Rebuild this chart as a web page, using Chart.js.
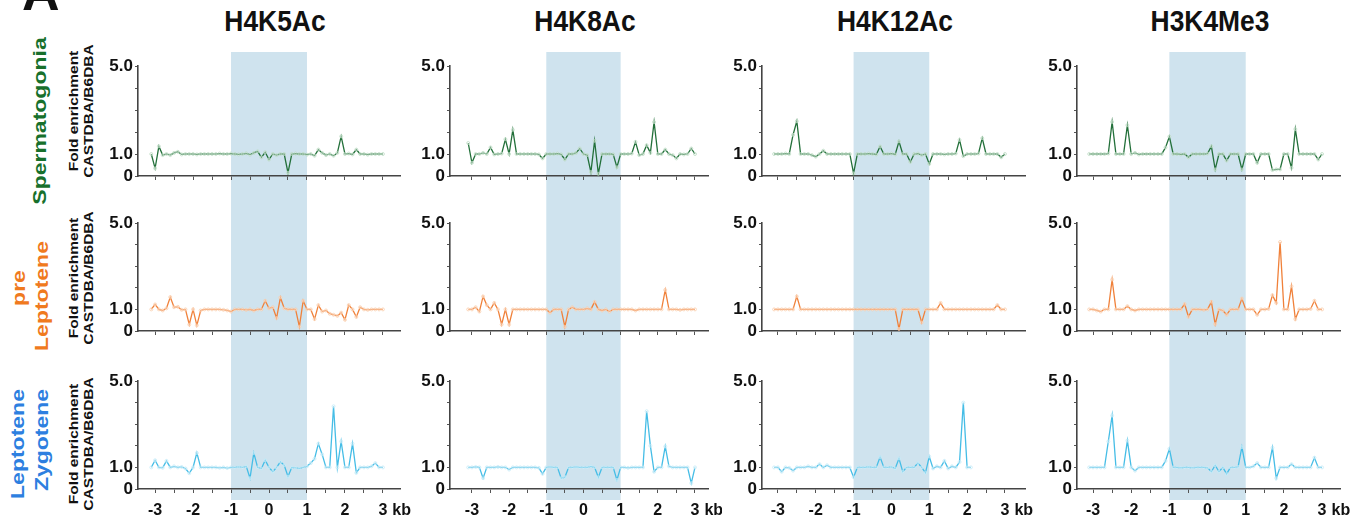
<!DOCTYPE html>
<html lang="en">
  <head>
    <meta charset="UTF-8" />
    <title>Fold enrichment CASTDBA/B6DBA</title>
    <script src="https://cdn.jsdelivr.net/npm/chart.js@4.4.0/dist/chart.umd.min.js"></script>
    <style>
      body {
        margin: 0;
        width: 1353px;
        height: 525px;
        background: #fff;
        position: relative;
        overflow: hidden;
        font-family: "Liberation Sans", Arial, sans-serif;
        font-weight: bold;
      }
      .panel { position: absolute; }
      .title {
        position: absolute;
        top: 6px;
        font-size: 30px;
        line-height: 30px;
        color: #111;
        white-space: nowrap;
        transform: translateX(-50%) scaleX(0.88);
      }
      .rot {
        position: absolute;
        white-space: nowrap;
        line-height: 1;
        transform: translate(-50%, -50%) rotate(-90deg) scaleY(0.82);
      }
      .stage { font-size: 23px; }
      .axisname { font-size: 15.5px; color: #111; }
    </style>
  </head>

  <body>
    <div style="position:absolute; left:22px; top:-34px; font-size:52px; line-height:52px; color:#111">A</div>

    <div class="title" style="left:275px">H4K5Ac</div>
    <div class="title" style="left:585px">H4K8Ac</div>
    <div class="title" style="left:895px">H4K12Ac</div>
    <div class="title" style="left:1210px">H3K4Me3</div>

    <div class="rot stage" style="left:40px; top:121px; color:#17702c">Spermatogonia</div>
    <div class="rot stage" style="left:19px; top:288px; color:#f07a1e">pre</div>
    <div class="rot stage" style="left:42px; top:296px; color:#f07a1e">Leptotene</div>
    <div class="rot stage" style="left:18px; top:444px; color:#2d7fe0">Leptotene</div>
    <div class="rot stage" style="left:42px; top:440px; color:#2d7fe0">Zygotene</div>

    <div class="rot axisname" style="left:74px; top:111px">Fold enrichment</div>
    <div class="rot axisname" style="left:89px; top:111px">CASTDBA/B6DBA</div>
    <div class="rot axisname" style="left:74px; top:278px">Fold enrichment</div>
    <div class="rot axisname" style="left:89px; top:278px">CASTDBA/B6DBA</div>
    <div class="rot axisname" style="left:74px; top:444px">Fold enrichment</div>
    <div class="rot axisname" style="left:89px; top:444px">CASTDBA/B6DBA</div>
  </body>
  <script>
    // position in kb, one value per bin
    var positionsKb = [
      -3.1, -3.0, -2.9, -2.8, -2.7, -2.6, -2.5, -2.4, -2.3, -2.2,
      -2.1, -2.0, -1.9, -1.8, -1.7, -1.6, -1.5, -1.4, -1.3, -1.2,
      -1.1, -1.0, -0.9, -0.8, -0.7, -0.6, -0.5, -0.4, -0.3, -0.2,
      -0.1, 0.0, 0.1, 0.2, 0.3, 0.4, 0.5, 0.6, 0.7, 0.8,
      0.9, 1.0, 1.1, 1.2, 1.3, 1.4, 1.5, 1.6, 1.7, 1.8,
      1.9, 2.0, 2.1, 2.2, 2.3, 2.4, 2.5, 2.6, 2.7, 2.8,
      2.9, 3.0
    ];
    var marks = ["H4K5Ac", "H4K8Ac", "H4K12Ac", "H3K4Me3"];
    var stages = ["Spermatogonia", "pre Leptotene", "Leptotene Zygotene"];
    var xTickValues = [-3, -2.5, -2, -1.5, -1, -0.5, 0, 0.5, 1, 1.5, 2, 2.5, 3];
    var xTickLabels = ["-3", "", "-2", "", "-1", "", "0", "", "1", "", "2", "", "3"];
    var yTickValues = [0, 1, 2, 3, 4, 5];
    var yTickLabels = ["0", "1.0", "", "", "", "5.0"];
    var bandKb = [-1, 1];

    // Spermatogonia
    var spgH4K5Ac = [
      1.0, 0.35, 1.35, 0.95, 1.0, 0.95, 1.05, 1.1, 0.98, 1.0,
      1.0, 1.0, 0.98, 1.0, 1.0, 1.0, 1.0, 1.0, 1.02, 1.0,
      1.0, 1.02, 1.0, 0.98, 1.0, 1.03, 0.97, 1.05, 1.12, 0.85,
      1.08, 0.75, 1.0, 0.95, 1.0, 1.0, 0.15, 1.0, 1.02, 1.0,
      1.0, 0.97, 1.0, 0.92, 1.2, 1.05, 0.95, 1.0, 0.92, 1.05,
      1.8, 1.0, 1.02, 0.98, 1.2, 1.0, 1.0, 0.97, 1.0, 1.0,
      1.0, 1.0
    ];
    var spgH4K8Ac = [
      1.5, 0.6, 1.0, 1.0, 1.05, 1.0, 1.3, 0.98, 1.0, 1.02,
      1.67, 1.0, 2.1, 1.0, 1.0, 1.0, 1.0, 1.0, 1.0, 0.98,
      0.8, 1.0, 1.0, 1.0, 1.02, 0.98, 0.75, 1.0, 1.0, 1.05,
      1.25, 1.0, 0.95, 0.18, 1.6, 0.1, 1.0, 1.0, 1.0, 0.98,
      0.4, 1.0, 1.0, 1.0, 1.02, 1.55, 0.95, 1.0, 1.4, 1.05,
      2.45, 1.0, 1.0, 1.2, 1.0, 0.95, 0.8, 1.0, 0.98, 1.0,
      1.25, 1.0
    ];
    var spgH4K12Ac = [
      1.0, 1.0, 1.0, 1.02, 1.0, 1.87, 2.49, 1.0, 1.0, 1.0,
      0.95, 0.88, 1.0, 1.15, 1.0, 1.0, 1.0, 1.0, 1.0, 1.0,
      1.0, 0.12, 1.0, 1.0, 1.0, 1.02, 1.0, 0.98, 1.34, 1.0,
      1.0, 1.02, 0.98, 1.57, 1.0, 1.0, 0.64, 1.0, 1.02, 0.95,
      1.0, 0.55, 1.0, 1.0, 1.0, 0.98, 1.0, 1.0, 1.02, 1.64,
      0.9, 1.0, 1.0, 1.0, 1.02, 1.72, 1.0, 1.0, 1.0, 1.0,
      0.85, 1.0
    ];
    var spgH3K4Me3 = [
      1.0, 1.0, 1.0, 1.0, 1.0, 1.02, 2.46, 1.0, 1.0, 1.0,
      2.31, 1.0, 1.05, 0.98, 1.0, 1.0, 1.0, 1.0, 1.0, 1.0,
      1.3, 1.79, 1.0, 1.0, 0.98, 1.0, 0.85, 1.0, 1.0, 1.0,
      1.0, 1.02, 1.35, 0.3, 1.0, 1.0, 0.7, 1.0, 1.0, 1.0,
      0.3, 1.0, 1.0, 1.0, 0.6, 1.0, 1.0, 1.0, 0.27, 0.3,
      0.3, 1.0, 1.0, 0.37, 2.13, 1.0, 1.0, 1.0, 1.0, 1.0,
      0.75, 1.0
    ];

    // pre Leptotene
    var plH4K5Ac = [
      1.0, 1.23, 1.0, 0.95, 1.05, 1.57, 1.1, 1.12, 0.98, 1.0,
      0.3, 1.0, 0.26, 0.95, 1.0, 1.0, 1.0, 1.0, 1.0, 0.98,
      0.95, 0.9, 1.0, 1.0, 1.0, 0.98, 1.0, 0.95, 1.0, 1.0,
      1.4, 1.05, 1.1, 0.6, 1.55, 1.05, 1.0, 1.0, 1.0, 0.2,
      1.4, 1.0, 1.0, 0.55, 1.2, 0.9, 0.95, 0.8, 0.75, 0.7,
      0.85, 0.52, 1.2, 1.0, 0.65, 1.1, 1.0, 0.98, 1.0, 1.0,
      1.0, 1.0
    ];
    var plH4K8Ac = [
      1.0, 1.0, 1.1, 0.9, 1.6, 1.2, 1.0, 1.3, 1.0, 0.3,
      1.0, 0.3, 1.0, 1.0, 1.0, 1.0, 1.0, 1.0, 1.0, 1.0,
      1.0, 1.0, 0.85, 1.0, 1.0, 1.0, 0.2, 1.0, 1.1, 1.0,
      1.0, 1.0, 1.05, 1.0, 1.35, 1.0, 0.95, 1.0, 0.9, 1.0,
      1.0, 1.0, 1.0, 1.0, 1.0, 0.95, 1.0, 1.0, 1.0, 1.0,
      1.0, 1.0, 1.0, 1.9, 1.0, 1.0, 1.0, 0.98, 1.0, 1.0,
      1.0, 1.0
    ];
    var plH4K12Ac = [
      1.0, 1.0, 1.0, 1.0, 1.0, 1.0, 1.6, 1.0, 1.0, 1.0,
      1.0, 1.0, 1.0, 1.0, 1.0, 1.0, 1.0, 1.0, 1.0, 1.0,
      1.0, 1.0, 1.0, 1.0, 1.0, 1.0, 1.0, 1.0, 1.0, 1.0,
      1.0, 1.0, 1.0, 0.1, 1.0, 1.0, 1.0, 1.0, 1.0, 0.4,
      1.0, 1.0, 1.0, 1.0, 1.3, 1.0, 1.0, 1.0, 1.0, 1.0,
      1.0, 1.0, 1.0, 1.0, 1.0, 1.0, 1.0, 1.0, 1.0, 1.2,
      1.0, 1.0
    ];
    var plH3K4Me3 = [
      1.0, 1.0, 0.95, 0.9, 1.0, 1.0, 2.38, 1.0, 1.0, 1.0,
      1.15, 1.0, 0.95, 1.0, 1.0, 1.0, 1.0, 1.0, 1.0, 1.0,
      1.0, 1.0, 1.0, 1.0, 1.0, 1.25, 0.66, 1.0, 1.0, 1.0,
      0.98, 1.0, 1.35, 0.32, 1.0, 0.95, 0.75, 1.0, 1.0, 1.0,
      1.5, 1.0, 1.0, 1.0, 0.75, 1.0, 1.0, 1.02, 1.66, 1.3,
      4.12, 1.0, 1.0, 2.07, 0.55, 1.0, 1.0, 1.0, 1.02, 1.4,
      1.0, 1.0
    ];

    // Leptotene Zygotene
    var lzH4K5Ac = [
      1.0, 1.33, 1.0, 0.98, 1.3, 1.0, 1.05, 1.0, 1.02, 0.95,
      0.73, 1.0, 1.67, 1.0, 1.0, 1.0, 1.0, 1.0, 0.98, 1.0,
      0.97, 1.0, 1.0, 1.02, 1.0, 1.05, 0.5, 1.67, 1.0, 0.95,
      1.33, 1.0, 0.8, 1.0, 1.26, 1.1, 0.58, 1.0, 0.98, 0.95,
      1.0, 1.05, 1.2, 1.4, 2.1, 1.6, 1.0, 1.0, 3.83, 1.0,
      2.2, 1.0, 1.0, 2.1, 0.75, 1.0, 1.0, 1.0, 1.05, 1.2,
      1.0, 1.0
    ];
    var lzH4K8Ac = [
      1.0, 1.0, 1.02, 1.0, 0.5, 1.0, 1.0, 1.0, 1.02, 1.0,
      1.0, 0.9, 1.0, 1.0, 1.0, 1.0, 1.0, 1.0, 1.0, 0.98,
      0.7, 1.0, 1.02, 1.0, 1.0, 0.5, 0.55, 1.0, 1.0, 1.02,
      1.0, 1.0, 1.0, 1.05, 1.0, 0.55, 1.0, 1.0, 1.0, 1.0,
      0.42, 1.0, 1.0, 0.98, 1.0, 1.0, 1.0, 1.0, 3.6, 2.0,
      0.8, 1.0, 1.0, 1.97, 1.05, 1.0, 1.0, 1.0, 1.0, 1.0,
      0.27, 1.0
    ];
    var lzH4K12Ac = [
      1.0, 1.0, 0.8, 1.0, 0.98, 0.85, 1.0, 1.0, 1.0, 1.05,
      1.0, 1.0, 1.15, 1.0, 1.1, 1.0, 1.0, 1.0, 1.0, 1.0,
      1.0, 0.55, 1.0, 1.0, 1.0, 1.02, 1.0, 1.0, 1.48, 1.0,
      1.0, 1.02, 0.95, 1.41, 0.8, 1.0, 1.0, 1.0, 1.2, 1.0,
      0.75, 1.5, 0.95, 1.05, 1.0, 1.3, 0.95, 1.05, 1.0, 1.25,
      4.0, 1.0, 1.0, null, null, null, null, null, null, null,
      null, null
    ];
    var lzH3K4Me3 = [
      1.0, 1.0, 1.0, 1.0, 1.0, 2.2, 3.4, 1.0, 1.0, 1.0,
      2.24, 1.0, 0.85, 1.0, 1.0, 1.0, 1.0, 1.0, 1.0, 1.0,
      1.3, 1.86, 1.0, 1.0, 0.98, 1.0, 1.0, 0.98, 1.0, 1.0,
      1.0, 0.98, 0.8, 1.1, 0.8, 1.0, 0.7, 1.0, 1.0, 1.02,
      1.94, 1.0, 1.0, 1.05, 1.2, 1.0, 1.0, 1.0, 1.91, 0.5,
      1.0, 1.0, 1.0, 1.15, 1.0, 1.0, 1.0, 1.0, 1.0, 1.45,
      1.0, 1.0
    ];

    var seriesGrid = [
      [spgH4K5Ac, spgH4K8Ac, spgH4K12Ac, spgH3K4Me3],
      [plH4K5Ac, plH4K8Ac, plH4K12Ac, plH3K4Me3],
      [lzH4K5Ac, lzH4K8Ac, lzH4K12Ac, lzH3K4Me3],
    ];

    // layout of the page
    var rowColors = [
      { line: "#23703a", point: "#b6d9bd" },
      { line: "#f0813a", point: "#f9c9a3" },
      { line: "#45bde6", point: "#bfe8f6" },
    ];
    var rowBoxes = [
      { top: 40, height: 160, padTop: 26, padBottom: 16, axisH: 8, bandTop: 12, bandBottom: 160, labels: false },
      { top: 200, height: 158, padTop: 23, padBottom: 19, axisH: 8, bandTop: 0, bandBottom: 158, labels: false },
      { top: 358, height: 167, padTop: 23, padBottom: 6, axisH: 30, bandTop: 0, bandBottom: 142, labels: true },
    ];
    var colBoxes = [
      { axisX: 138, plotW: 262, xMin: -3.45, xMax: 3.45 },
      { axisX: 450, plotW: 258, xMin: -3.59, xMax: 3.35 },
      { axisX: 762, plotW: 263, xMin: -3.42, xMax: 3.53 },
      { axisX: 1077, plotW: 263, xMin: -3.42, xMax: 3.47 },
    ];
    var yAxisW = 50;
    var rightPad = 14;
    var tickFont = { family: "'Liberation Sans', Arial, sans-serif", size: 16, weight: "bold" };

    var shadeBand = {
      id: "shadeBand",
      beforeDraw(chart, args, opts) {
        const { ctx } = chart;
        const x = chart.scales.x;
        const x1 = x.getPixelForValue(bandKb[0]);
        const x2 = x.getPixelForValue(bandKb[1]);
        ctx.save();
        ctx.fillStyle = "#cfe3ee";
        ctx.fillRect(x1, opts.top, x2 - x1, opts.bottom - opts.top);
        ctx.restore();
      },
    };
    var kbLabel = {
      id: "kbLabel",
      afterDraw(chart, args, opts) {
        if (!opts.show) return;
        const { ctx } = chart;
        const x = chart.scales.x;
        const px = x.getPixelForValue(3);
        ctx.save();
        ctx.font = "bold 16px 'Liberation Sans', Arial, sans-serif";
        ctx.fillStyle = "#111";
        ctx.textAlign = "left";
        ctx.textBaseline = "middle";
        const w = ctx.measureText("3").width;
        ctx.fillText("kb", px + w / 2 + 5, x.top + 4 + 10 + 8);
        ctx.restore();
      },
    };

    function makePanel(r, c) {
      var rb = rowBoxes[r];
      var cb = colBoxes[c];
      var values = seriesGrid[r][c];
      var w = yAxisW + cb.plotW + rightPad;

      var holder = document.createElement("div");
      holder.className = "panel";
      holder.style.left = cb.axisX - yAxisW + "px";
      holder.style.top = rb.top + "px";
      holder.style.width = w + "px";
      holder.style.height = rb.height + "px";
      var canvas = document.createElement("canvas");
      canvas.width = w;
      canvas.height = rb.height;
      canvas.setAttribute("aria-label", stages[r] + " " + marks[c]);
      holder.appendChild(canvas);
      document.body.appendChild(holder);

      new Chart(canvas, {
        type: "line",
        data: {
          datasets: [
            {
              label: stages[r] + " " + marks[c],
              data: values.map(function (v, i) {
                return { x: positionsKb[i], y: v };
              }),
              borderColor: rowColors[r].line,
              borderWidth: 1.3,
              pointRadius: 1.5,
              pointBorderWidth: 0.7,
              pointBorderColor: rowColors[r].point,
              pointBackgroundColor: "rgba(255,255,255,0.4)",
              tension: 0,
              spanGaps: false,
            },
          ],
        },
        options: {
          responsive: false,
          animation: false,
          layout: { padding: { top: rb.padTop, bottom: rb.padBottom, left: 0, right: rightPad } },
          plugins: {
            legend: { display: false },
            tooltip: { enabled: false },
            shadeBand: { top: rb.bandTop, bottom: rb.bandBottom },
            kbLabel: { show: rb.labels },
          },
          scales: {
            x: {
              type: "linear",
              min: cb.xMin,
              max: cb.xMax,
              afterBuildTicks: function (s) {
                s.ticks = xTickValues.map(function (v) { return { value: v }; });
              },
              afterFit: function (s) { s.height = rb.axisH; },
              grid: { drawOnChartArea: false, tickLength: 4, color: "#555", lineWidth: 1 },
              border: { color: "#444", width: 1.6 },
              ticks: {
                display: rb.labels,
                autoSkip: false,
                maxRotation: 0,
                padding: 8,
                color: "#111",
                font: tickFont,
                callback: function (v, i) { return xTickLabels[i]; },
              },
            },
            y: {
              min: 0,
              max: 5,
              afterBuildTicks: function (s) {
                s.ticks = yTickValues.map(function (v) { return { value: v }; });
              },
              afterFit: function (s) { s.width = yAxisW; },
              grid: { drawOnChartArea: false, tickLength: 3, color: "#555", lineWidth: 1 },
              border: { color: "#444", width: 1.6 },
              ticks: {
                autoSkip: false,
                padding: 2,
                color: "#111",
                font: { family: tickFont.family, size: 17, weight: "bold" },
                callback: function (v, i) { return yTickLabels[i]; },
              },
            },
          },
        },
        plugins: [shadeBand, kbLabel],
      });
    }

    for (var r = 0; r < 3; r++) {
      for (var c = 0; c < 4; c++) {
        makePanel(r, c);
      }
    }
  </script>
